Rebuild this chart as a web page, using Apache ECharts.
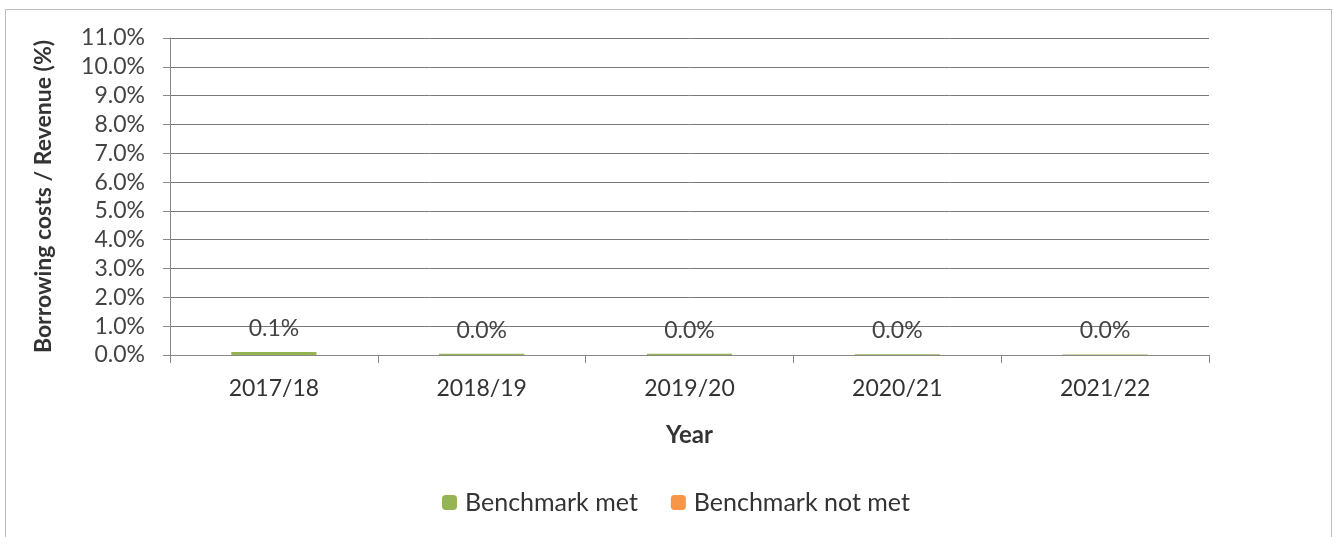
<!DOCTYPE html>
<html><head><meta charset="utf-8">
<script src="https://cdn.jsdelivr.net/npm/echarts@6/dist/echarts.min.js"></script>
<style>html,body{margin:0;padding:0;background:#fff}#c{width:1334px;height:537px}
#frame{position:absolute;left:5px;top:9px;width:1325px;height:540px;border:1px solid #bdbdbd;pointer-events:none}</style>
</head><body><div id="c"></div><div id="frame"></div>
<script>
const categories = ['2017/18','2018/19','2019/20','2020/21','2021/22'];
const benchmarkMet = [0.1, 0.04, 0.04, 0.03, 0.02];
const benchmarkNotMet = [null, null, null, null, null];
const labelTexts = ['0.1%','0.0%','0.0%','0.0%','0.0%'];
const yMin = 0, yMax = 11, yStep = 1;

const font = 'Lato, "Open Sans", sans-serif';
const chart = echarts.init(document.getElementById('c'));
chart.setOption({
  animation:false,
  textStyle:{fontFamily:font},
  grid:{left:170,right:125,top:38,bottom:182,containLabel:false},
  legend:{top:485,left:437,itemWidth:15,itemHeight:15,itemGap:33,
    textStyle:{fontSize:25,color:'#333',fontFamily:font,padding:[0,0,0,3]},
    data:['Benchmark met','Benchmark not met']},
  xAxis:{type:'category',data:categories,name:'Year',nameLocation:'middle',nameGap:68,
    nameTextStyle:{fontSize:24,fontWeight:'bold',color:'#333'},
    axisLine:{lineStyle:{color:'#888'}},axisTick:{show:true,length:8,lineStyle:{color:'#888'}},
    axisLabel:{fontSize:23,color:'#333',margin:22}},
  yAxis:{type:'value',min:yMin,max:yMax,interval:yStep,
    name:'Borrowing costs / Revenue (%)',nameLocation:'middle',nameGap:115,
    nameTextStyle:{fontSize:23,fontWeight:'bold',color:'#333'},
    axisLine:{show:true,lineStyle:{color:'#888'}},axisTick:{show:true,length:7,lineStyle:{color:'#888'}},
    splitLine:{lineStyle:{color:'#7a7a7a'}},
    axisLabel:{fontSize:23,color:'#444',margin:25,formatter:v=>v.toFixed(1)+'%'}},
  series:[
    {name:'Benchmark met',type:'bar',stack:'s',data:benchmarkMet,barWidth:'41%',
     itemStyle:{color:'#95b452'},
     label:{show:true,position:'top',distance:12,fontSize:23,color:'#444',
       formatter:p=>labelTexts[p.dataIndex]}},
    {name:'Benchmark not met',type:'bar',stack:'s',data:benchmarkNotMet,barWidth:'41%',
     itemStyle:{color:'#f79646'}}
  ]
});
</script></body></html>
